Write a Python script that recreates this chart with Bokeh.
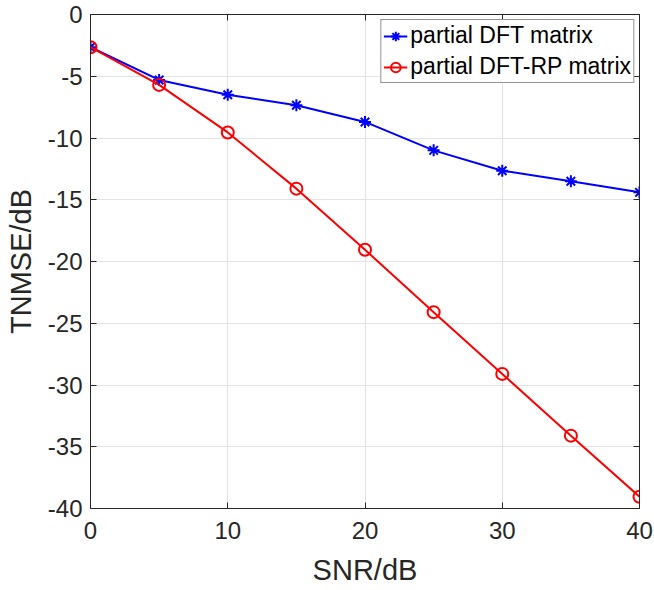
from bokeh.plotting import figure
from bokeh.models import Range1d, LinearAxis, Legend, LegendItem, FixedTicker, CustomJSTickFormatter
from bokeh.embed import file_html
from bokeh.resources import INLINE

snr = [0, 5, 10, 15, 20, 25, 30, 35, 40]
dft = [-2.65, -5.3, -6.5, -7.35, -8.7, -11.0, -12.65, -13.5, -14.4]
dft_rp = [-2.65, -5.7, -9.55, -14.1, -19.05, -24.1, -29.1, -34.1, -39.05]
x_ticks = [0, 10, 20, 30, 40]
y_ticks = [0, -5, -10, -15, -20, -25, -30, -35, -40]
names = ["partial DFT matrix", "partial DFT-RP matrix"]

FONT = "Liberation Sans"
AX = "#262626"

p = figure(width=654, height=590, output_backend="svg", toolbar_location=None,
           x_range=Range1d(0, 40), y_range=Range1d(-40, 0),
           min_border_left=90, min_border_right=15, min_border_top=14, min_border_bottom=82)
p.outline_line_color = AX
p.outline_line_width = 1
p.background_fill_color = "white"
p.border_fill_color = "white"

for g in (p.xgrid, p.ygrid):
    g.grid_line_color = "#e3e3e3"
    g.grid_line_width = 1
p.xgrid.ticker = FixedTicker(ticks=x_ticks)
p.ygrid.ticker = FixedTicker(ticks=y_ticks)

fmt = "return tick.toFixed(0);"

def style(ax, ticks, labels=True):
    ax.ticker = FixedTicker(ticks=ticks)
    ax.formatter = CustomJSTickFormatter(code=fmt)
    ax.axis_line_color = AX
    ax.major_tick_line_color = AX
    ax.major_tick_in = 6
    ax.major_tick_out = 0
    ax.minor_tick_line_color = None
    ax.major_label_text_font = FONT
    ax.major_label_text_font_size = "24px"
    ax.major_label_text_color = AX
    ax.axis_label_text_font = FONT
    ax.axis_label_text_font_size = "29px"
    ax.axis_label_text_font_style = "normal"
    ax.axis_label_text_color = AX
    if not labels:
        ax.major_label_text_font_size = "0px"
        ax.major_label_text_color = None

style(p.xaxis[0], x_ticks)
style(p.yaxis[0], y_ticks)
p.xaxis[0].axis_label = "SNR/dB"
p.yaxis[0].axis_label = "TNMSE/dB"
p.xaxis[0].major_label_standoff = 13
p.yaxis[0].major_label_standoff = 8
p.xaxis[0].axis_label_standoff = 12
p.yaxis[0].axis_label_standoff = 8

top = LinearAxis()
style(top, x_ticks, labels=False)
p.add_layout(top, "above")
right = LinearAxis()
style(right, y_ticks, labels=False)
p.add_layout(right, "right")

l1 = p.line(snr, dft, line_color="#0000ff", line_width=2)
m1 = p.scatter(snr, dft, marker="asterisk", size=12, line_color="#0000ff", line_width=2)
l2 = p.line(snr, dft_rp, line_color="#ff0000", line_width=2)
m2 = p.scatter(snr, dft_rp, marker="circle", size=12, line_color="#ff0000",
               fill_color=None, line_width=2)

legend = Legend(items=[LegendItem(label=names[0], renderers=[l1, m1]),
                       LegendItem(label=names[1], renderers=[l2, m2])],
                location="top_right")
legend.label_text_font = FONT
legend.label_text_font_size = "23px"
legend.label_text_color = "black"
legend.border_line_color = AX
legend.border_line_width = 1
legend.background_fill_color = "white"
legend.background_fill_alpha = 1
legend.glyph_width = 24
legend.glyph_height = 26
legend.label_height = 26
legend.label_standoff = 3
legend.spacing = 4
legend.padding = 2
legend.margin = 5
p.add_layout(legend, "center")

open("out.html", "w").write(file_html(p, INLINE))
